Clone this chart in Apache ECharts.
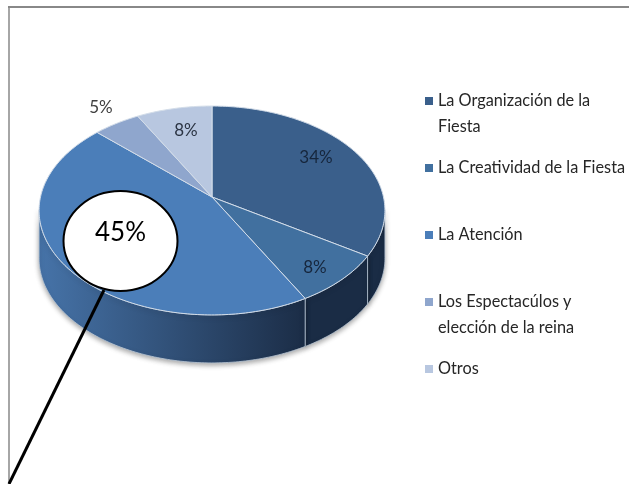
<!DOCTYPE html>
<html>
<head>
<meta charset="utf-8">
<style>html,body{margin:0;padding:0;background:#fff}#c{width:629px;height:484px}</style>
<script src="https://cdn.jsdelivr.net/npm/echarts@6/dist/echarts.min.js"></script>
</head>
<body>
<div id="c"></div>
<script>
const categories = ['La Organización de la Fiesta','La Creatividad de la Fiesta','La Atención','Los Espectacúlos y elección de la reina','Otros'];
const legendLines = [['La Organización de la','Fiesta'],['La Creatividad de la Fiesta'],['La Atención'],['Los Espectacúlos y','elección de la reina'],['Otros']];
const values = [34,8,45,5,8];
const topColors = ['#3a5f8b','#41709f','#4b7eb9','#8fa6cd','#b8c7e0'];

const FONT = 'Lato,"Liberation Sans",sans-serif';
const cx = 212, cy = 197, A = 102.7, B = 171.5, K = 0.129, DEPTH = 48;
const total = values.reduce((a,b)=>a+b,0);
const starts = []; values.reduce((s,v,i)=>{starts[i]=s;return s+v;},0);
const VIS0 = 97/360, VIS1 = 263/360;

function pt(frac, r){
  const t = frac*2*Math.PI, u = r*Math.sin(t), v = -r*Math.cos(t), w = 1-K*v;
  return [cx+B*u/w, cy+A*v/w];
}
function arc(f0,f1){
  const n = Math.max(2,Math.ceil((f1-f0)*360)), out=[];
  for(let i=0;i<=n;i++) out.push(pt(f0+(f1-f0)*i/n,1));
  return out;
}
const labelPos = [[316,158],[315,268],null,[101,108],[186,131]];
const labelColor = ['#16263c','#16263c',null,'#404040','#2b3443'];

function sideFill(i){
  if(i===2) return new echarts.graphic.LinearGradient(40,0,300,0,[{offset:0,color:'#4673a8'},{offset:1,color:'#1c2e48'}],true);
  return '#1a2c45';
}
function renderSlice(i){
  return function(){
    const f0 = starts[i]/total, f1 = (starts[i]+values[i])/total;
    const kids = [];
    const a = Math.max(f0,VIS0), b = Math.min(f1,VIS1);
    if(b>a){
      const e = arc(a,b);
      const pts = e.concat(e.slice().reverse().map(p=>[p[0],p[1]+DEPTH]));
      kids.push({type:'polygon',shape:{points:pts},style:{fill:sideFill(i),stroke:'#b9c6d6',lineWidth:0.8,
        shadowBlur:5,shadowColor:'rgba(0,0,0,0.35)',shadowOffsetY:2}});
    }
    kids.push({type:'polygon',shape:{points:[[cx,cy]].concat(arc(f0,f1))},
      style:{fill:topColors[i],stroke:'#d3dde9',lineWidth:1}});
    if(i===2){
      kids.push({type:'line',shape:{x1:104,y1:290,x2:9,y2:484},style:{stroke:'#000',lineWidth:3}});
      kids.push({type:'ellipse',shape:{cx:120.5,cy:241,rx:57,ry:50},style:{fill:'#fff',stroke:'#000',lineWidth:2}});
      kids.push({type:'text',x:120.5,y:233,style:{text:values[i]+'%',fill:'#000',font:'26px '+FONT,align:'center',verticalAlign:'middle'}});
    } else {
      kids.push({type:'text',x:labelPos[i][0],y:labelPos[i][1],style:{text:values[i]+'%',fill:labelColor[i],font:'17px '+FONT,align:'center',verticalAlign:'middle'}});
    }
    return {type:'group',children:kids};
  };
}
const rowY = [100,167,234,301,368];
const chart = echarts.init(document.getElementById('c'),null,{renderer:'canvas'});
chart.setOption({
  animation:false,
  backgroundColor:'#fff',
  tooltip:{show:false},
  legend: categories.map((name,i)=>({
    left:425, top:rowY[i]-8, padding:0, itemWidth:8, itemHeight:8, itemGap:5,
    icon:'rect', selectedMode:false, data:[name],
    formatter:()=>legendLines[i][0],
    textStyle:{fontFamily:FONT,fontSize:16.3,color:'#262626',lineHeight:18}
  })),
  graphic:[
    {type:'line',shape:{x1:9,y1:484,x2:9,y2:7},style:{stroke:'#a6a6a6',lineWidth:2}},
    {type:'line',shape:{x1:8,y1:7,x2:629,y2:7},style:{stroke:'#888888',lineWidth:2}},
    ...legendLines.map((l,i)=>l[1]?{type:'text',x:438,y:rowY[i]+27,style:{text:l[1],fill:'#262626',font:'16.3px '+FONT,verticalAlign:'middle'}}:null).filter(Boolean)
  ],
  series: categories.map((name,i)=>({
    type:'custom',name,coordinateSystem:'none',silent:true,
    itemStyle:{color:topColors[i]},
    data:[values[i]],
    renderItem:renderSlice(i)
  }))
});
</script>
</body>
</html>
